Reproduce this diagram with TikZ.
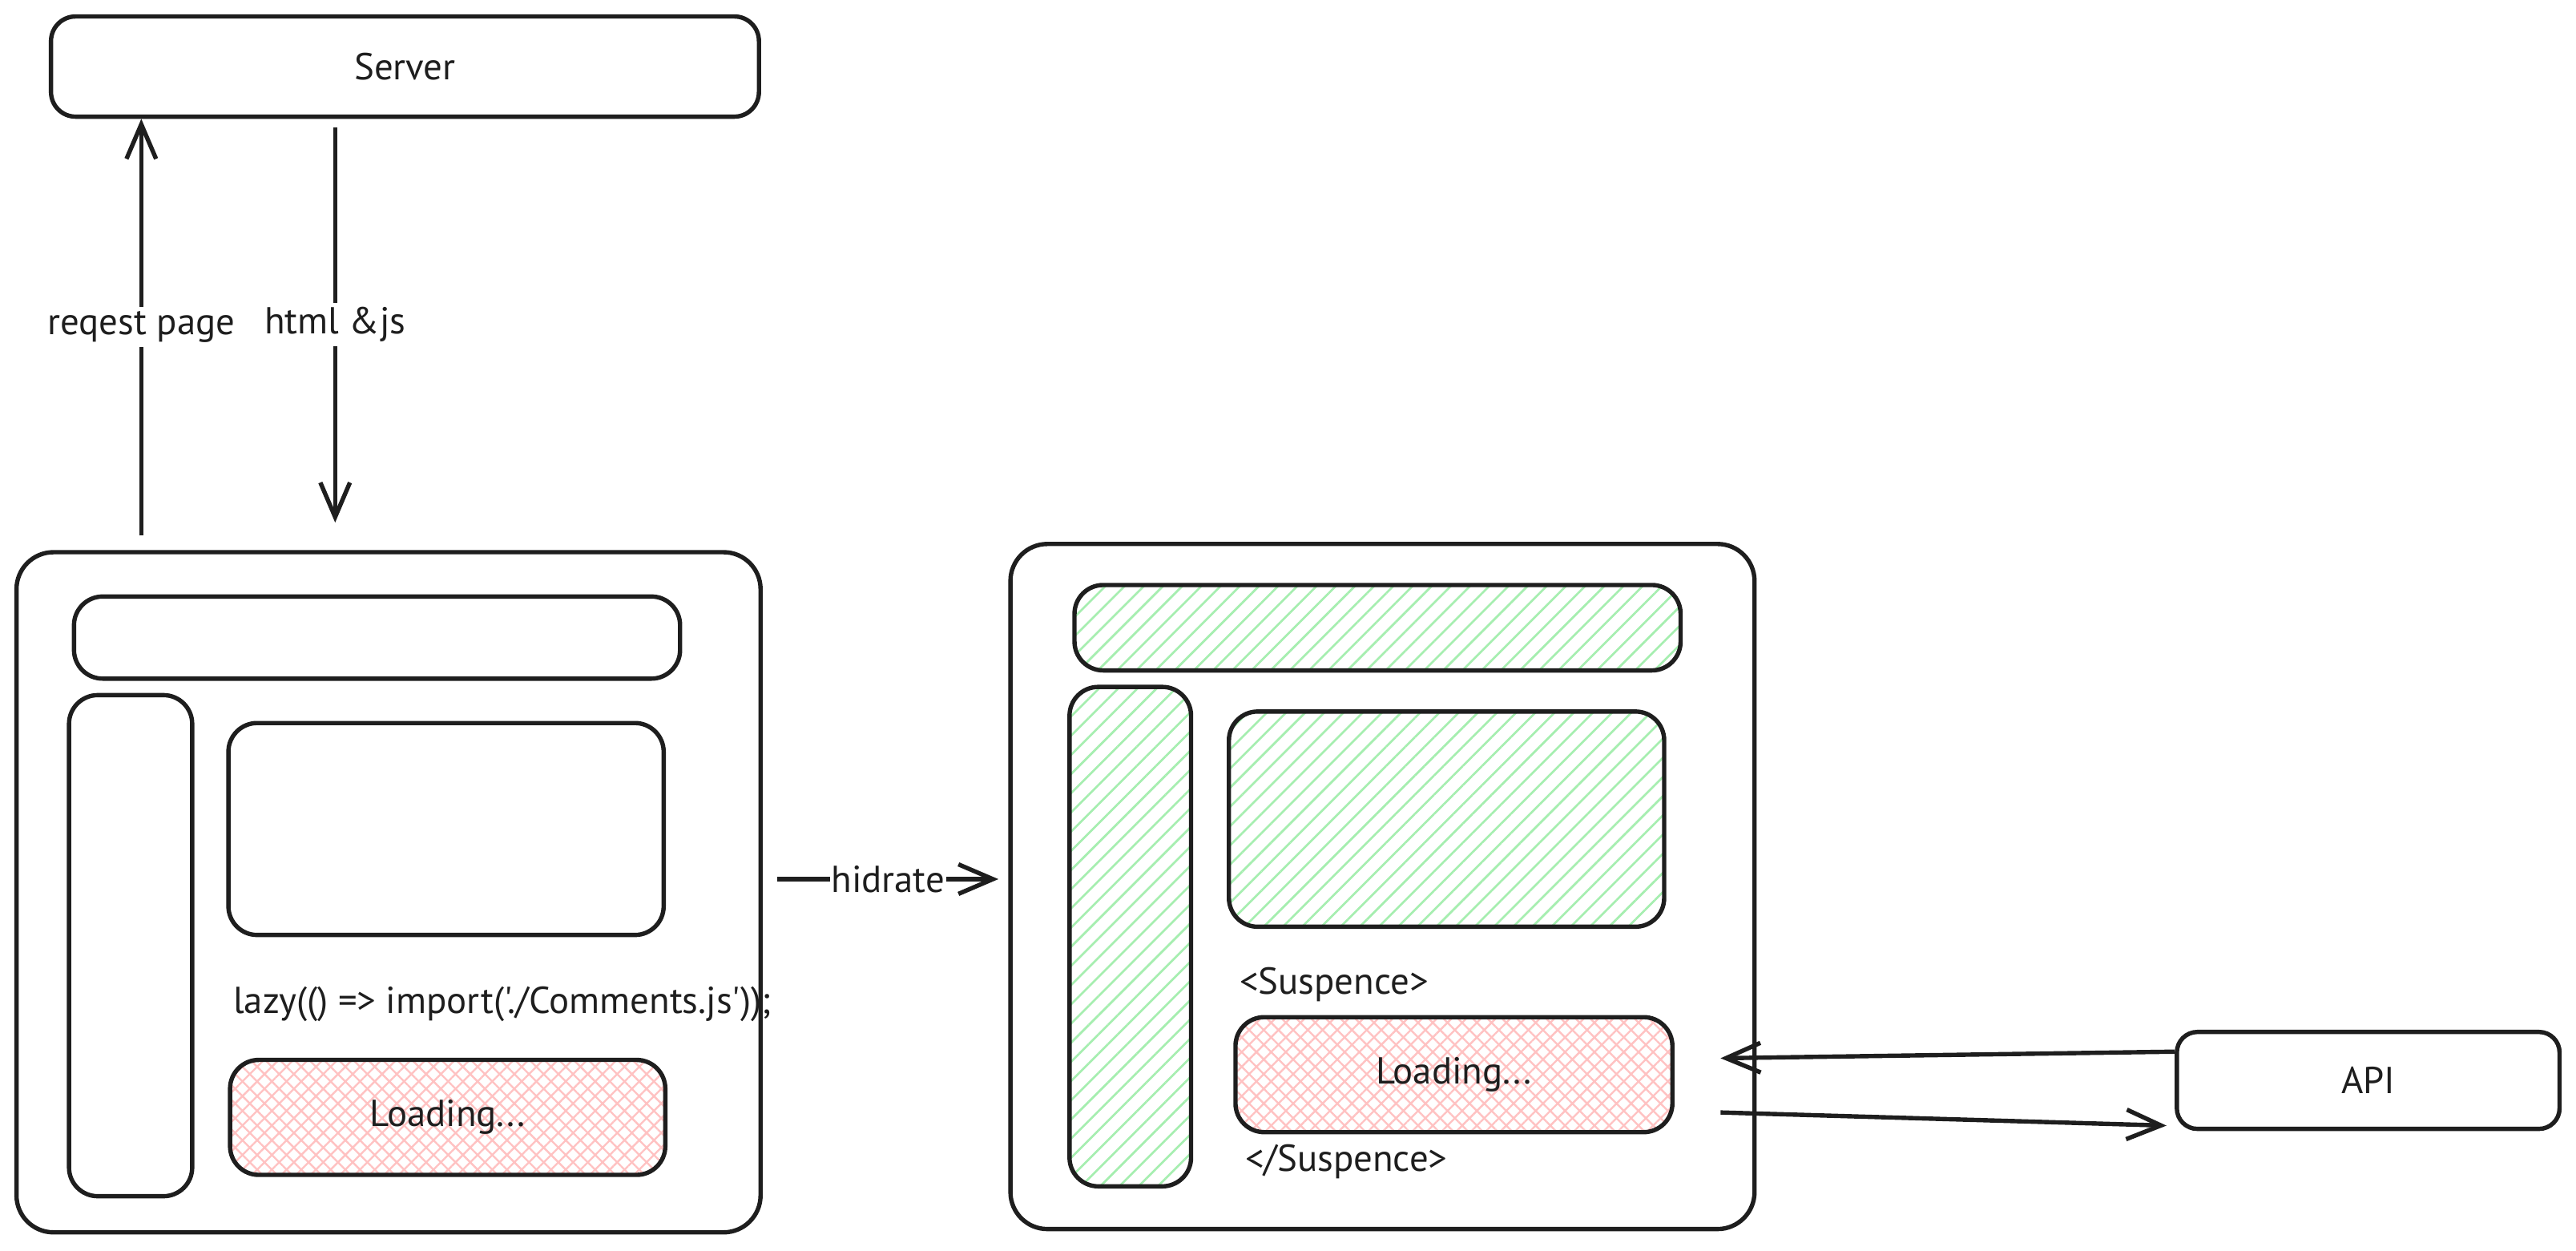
\documentclass[tikz,border=0pt]{standalone}
\usepackage{fontspec}
\setmainfont{PT Sans}[Ligatures=TeXOff]
\usepackage{tikz}
\usetikzlibrary{positioning,arrows.meta,patterns.meta}
\definecolor{ink}{HTML}{1E1E1E}
\definecolor{hgreen}{HTML}{A6EEB0}
\definecolor{hred}{HTML}{FFC2C2}

\begin{document}
\begin{tikzpicture}[
x=0.02cm, y=0.02cm,
box/.style={draw=ink, line width=1.5pt, rounded corners=0.35cm, inner sep=0pt, font=\fontsize{13}{15}\selectfont, text=ink},
frame/.style={box, rounded corners=0.45cm},
done/.style={box, pattern={Lines[angle=45, distance=4.7pt, line width=0.75pt]}, pattern color=hgreen},
wait/.style={box, pattern={Hatch[angle=45, distance=3.6pt, line width=0.65pt]}, pattern color=hred},
label/.style={font=\fontsize{13}{15}\selectfont, text=ink, inner sep=1.5pt},
arrow/.style={-{Straight Barb[length=0.42cm, width=0.36cm, line width=1.5pt]}, line width=1.5pt, ink}
]
\path[fill=white, use as bounding box] (0,0) rectangle (1568,-761);
\node[box, rounded corners=0.3cm, minimum width=8.62cm, minimum height=1.22cm] (server) at (246.5,-40.5) {Server};
% page as sent by the server
\node[frame, minimum width=9.06cm, minimum height=8.28cm] (client) at (236.5,-543) {};
\node[box, minimum width=7.38cm, minimum height=1.0cm] (nav) at (229.5,-388) {};
\node[box, minimum width=1.5cm, minimum height=6.1cm] (side) at (79.5,-575.5) {};
\node[box, minimum width=5.3cm, minimum height=2.58cm] (main) at (271.5,-504.5) {};
\node[label, anchor=west] (lazy) at (139,-611) {lazy(() => import('./Comments.js'));};
\node[wait, minimum width=5.3cm, minimum height=1.4cm] (loading) at (272.5,-680) {Loading...};
% hydrated page
\node[frame, minimum width=9.06cm, minimum height=8.34cm] (page) at (841.5,-539.5) {};
\node[done, minimum width=7.38cm, minimum height=1.04cm] (nav2) at (838.5,-382) {};
\node[done, minimum width=1.48cm, minimum height=6.08cm] (side2) at (688,-570) {};
\node[done, minimum width=5.3cm, minimum height=2.62cm] (main2) at (880.5,-498.5) {};
\node[label] (open) at (812,-599) {<Suspence>};
\node[wait, minimum width=5.32cm, minimum height=1.4cm] (loading2) at (885,-654) {Loading...};
\node[label] (close) at (819.5,-707) {</Suspence>};
\node[box, rounded corners=0.25cm, minimum width=4.66cm, minimum height=1.18cm] (api) at (1441.5,-657.5) {API};
% connectors
\coordinate (reqfoot) at (86,-326);
\coordinate (htmlfoot) at (204,-318);
\draw[arrow] (reqfoot) -- (reqfoot |- server.south) node[midway, fill=white, label] {reqest page};
\draw[arrow] ([yshift=-0.1cm]server.south -| htmlfoot) -- (htmlfoot) node[midway, fill=white, label] {html \&js};
\draw[arrow] ([shift={(9,8)}]client.east) -- ([shift={(-6,4.5)}]page.west) node[midway, fill=white, label, inner sep=0.5pt] {hidrate};
\draw[arrow] ([shift={(0,17.5)}]api.west) -- ([shift={(28,10)}]loading2.east);
\draw[arrow] ([shift={(28,-23)}]loading2.east) -- ([shift={(-5,-27.5)}]api.west);
\end{tikzpicture}
\end{document}
